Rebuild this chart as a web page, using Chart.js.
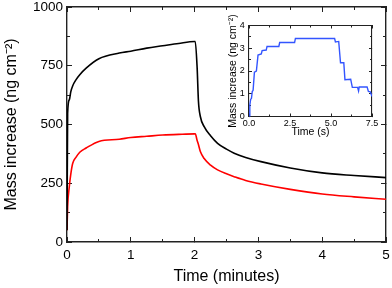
<!DOCTYPE html>
<html>
<head>
<meta charset="utf-8">
<script src="https://cdn.jsdelivr.net/npm/chart.js@4/dist/chart.umd.min.js"></script>
<style>
  html, body { margin: 0; padding: 0; background: #fff; overflow: hidden; }
  #wrap { position: relative; width: 392px; height: 288px; }
  #mainChart { position: absolute; left: 0; top: 0; }
  #insetChart { position: absolute; left: 220px; top: 15px; }
</style>
</head>
<body>
<div id="wrap">
  <canvas id="mainChart" width="392" height="288"></canvas>
  <canvas id="insetChart" width="165" height="130"></canvas>
</div>
<script>
// main plot: time in minutes, mass in ng cm-2
const mainTime = [0, 0.01, 0.036, 0.06, 0.09, 0.14, 0.2, 0.3, 0.5, 0.82, 1.0, 1.25, 1.5, 1.75, 2.0,
    2.01, 2.04, 2.06, 2.09, 2.15, 2.25, 2.36, 2.5, 2.62, 2.8, 3.04, 3.5, 4.0, 4.5, 5.0];
const blackMass = [50, 548, 605, 640, 665, 690, 712, 740, 780, 804, 812, 825, 835, 845, 853,
    853, 740, 600, 534, 491, 452, 420, 395, 378, 360, 342, 315, 294, 283, 274];
const redMass = [50, 150, 235, 290, 335, 360, 382, 400, 428, 437, 445, 450, 455, 458, 460,
    460, 432, 415, 385, 355, 327, 307, 290, 278, 262, 247, 224, 204, 192, 182];

// inset: time in seconds
const insetTime = [0, 0.05, 0.1, 0.15, 0.2, 0.25, 0.33, 0.45, 0.55, 0.75, 0.8, 1.05, 1.1, 1.82, 1.87,
    2.78, 2.83, 5.22, 5.27, 5.47, 5.58, 5.78, 5.85, 6.2, 6.3, 6.62, 6.68, 6.72, 7.2, 7.28, 7.4, 7.5];
const insetMass = [0, 0.5, 0.75, 0.8, 1.1, 1.15, 1.95, 2.0, 2.7, 2.75, 2.9, 2.92, 3.08, 3.08, 3.25,
    3.25, 3.43, 3.43, 3.28, 3.3, 2.36, 2.36, 1.62, 1.64, 1.28, 1.28, 1.12, 1.3, 1.3, 1.1, 1.08, 0.88];

const mainXTicks = [0, 1, 2, 3, 4, 5];
const mainXMinor = [0, 0.5, 1, 1.5, 2, 2.5, 3, 3.5, 4, 4.5, 5];
const mainYTicks = [0, 250, 500, 750, 1000];
const mainYMinor = [0, 125, 250, 375, 500, 625, 750, 875, 1000];
const insetXTicks = [0, 2.5, 5, 7.5];
const insetXMinor = [0, 1.25, 2.5, 3.75, 5, 6.25, 7.5];
const insetYTicks = [0, 1, 2, 3, 4];
const insetYMinor = [0, 0.5, 1, 1.5, 2, 2.5, 3, 3.5, 4];

const FONT = '"Liberation Sans", Arial, sans-serif';
const INK = '#222222';

function toPoints(xs, ys) {
    return xs.map((x, i) => ({ x: x, y: ys[i] }));
}

function tickList(values) {
    return s => { s.ticks = values.map(v => ({ value: v })); };
}

function noPad(s) {
    s.paddingTop = 0; s.paddingBottom = 0; s.paddingLeft = 0; s.paddingRight = 0;
}

// axes: labelled bottom/left, plus top/right and minor-tick axes to close the box
function frameScales(o) {
    const border = { display: true, color: INK, width: o.borderWidth };
    const tickGrid = len => ({ display: true, drawOnChartArea: false, drawTicks: true, tickLength: -len, tickColor: INK, tickWidth: 1 });
    const range = axis => axis === 'x' ? { min: o.xMin, max: o.xMax } : { min: o.yMin, max: o.yMax };
    const deco = (axis, position, values, len, weight, withBorder) => Object.assign({
        type: 'linear', axis: axis, position: position, weight: weight,
        afterBuildTicks: tickList(values),
        afterFit: s => { noPad(s); if (axis === 'x') s.height = 0; else s.width = 0; },
        grid: tickGrid(len),
        border: withBorder ? border : { display: false },
        ticks: { display: false, autoSkip: false }
    }, range(axis));

    return {
        x: Object.assign({
            type: 'linear', position: 'bottom', weight: 0,
            afterBuildTicks: tickList(o.xTicks),
            afterFit: s => { noPad(s); s.height = o.xHeight; },
            grid: tickGrid(o.majorLen),
            border: border,
            ticks: { color: '#000', autoSkip: false, maxRotation: 0, padding: o.xPad + o.majorLen, font: { family: FONT, size: o.tickSize }, callback: o.xFormat },
            title: { display: true, text: o.xTitle, color: '#000', padding: { top: 0, bottom: o.xTitlePad }, font: { family: FONT, size: o.titleSize } }
        }, range('x')),
        y: Object.assign({
            type: 'linear', position: 'left', weight: 0,
            afterBuildTicks: tickList(o.yTicks),
            afterFit: s => { noPad(s); s.width = o.yWidth; },
            grid: tickGrid(o.majorLen),
            border: border,
            ticks: { color: '#000', autoSkip: false, padding: o.yPad + o.majorLen, font: { family: FONT, size: o.tickSize }, callback: v => String(v) },
            title: { display: true, text: o.yTitle, color: '#000', padding: { top: o.yTitlePad, bottom: 0 }, font: { family: FONT, size: o.titleSize } }
        }, range('y')),
        xMinor: deco('x', 'bottom', o.xMinor, o.minorLen, -1, false),
        xTop: deco('x', 'top', o.xTicks, o.majorLen, 0, true),
        xTopMinor: deco('x', 'top', o.xMinor, o.minorLen, -1, false),
        yMinor: deco('y', 'left', o.yMinor, o.minorLen, -1, false),
        yRight: deco('y', 'right', o.yTicks, o.majorLen, 0, true),
        yRightMinor: deco('y', 'right', o.yMinor, o.minorLen, -1, false)
    };
}

new Chart(document.getElementById('mainChart'), {
    type: 'line',
    data: {
        datasets: [
            { data: toPoints(mainTime, blackMass), borderColor: '#000000', borderWidth: 1.6 },
            { data: toPoints(mainTime, redMass), borderColor: '#ff0000', borderWidth: 1.6 }
        ]
    },
    options: {
        responsive: false,
        animation: false,
        layout: { padding: { top: 7, right: 6, left: 0, bottom: 0 } },
        elements: { point: { radius: 0 }, line: { cubicInterpolationMode: 'monotone' } },
        plugins: { legend: { display: false }, tooltip: { enabled: false } },
        scales: frameScales({
            xMin: 0, xMax: 5, yMin: 0, yMax: 1000,
            xTicks: mainXTicks, xMinor: mainXMinor, yTicks: mainYTicks, yMinor: mainYMinor,
            majorLen: 5, minorLen: 3, borderWidth: 1.4,
            xHeight: 46, yWidth: 67, xPad: 5, yPad: 4,
            tickSize: 13.5, titleSize: 16, xTitlePad: 1.5, yTitlePad: 2.4,
            xFormat: v => String(v),
            xTitle: 'Time (minutes)', yTitle: 'Mass increase (ng cm⁻²)'
        })
    }
});

new Chart(document.getElementById('insetChart'), {
    type: 'line',
    data: {
        datasets: [
            { data: toPoints(insetTime, insetMass), borderColor: '#3355ff', borderWidth: 1.4, tension: 0 }
        ]
    },
    options: {
        responsive: false,
        animation: false,
        layout: { padding: { top: 10.5, right: 13, left: 0, bottom: 0 } },
        elements: { point: { radius: 0 } },
        plugins: { legend: { display: false }, tooltip: { enabled: false } },
        scales: frameScales({
            xMin: 0, xMax: 7.5, yMin: 0, yMax: 4,
            xTicks: insetXTicks, xMinor: insetXMinor, yTicks: insetYTicks, yMinor: insetYMinor,
            majorLen: 3, minorLen: 2, borderWidth: 1.1,
            xHeight: 28.5, yWidth: 29, xPad: 2, yPad: 4.3,
            tickSize: 9, titleSize: 10.5, xTitlePad: 6.2, yTitlePad: 6.7,
            xFormat: v => v.toFixed(1),
            xTitle: 'Time (s)', yTitle: 'Mass increase (ng cm⁻²)'
        })
    }
});
</script>
</body>
</html>
